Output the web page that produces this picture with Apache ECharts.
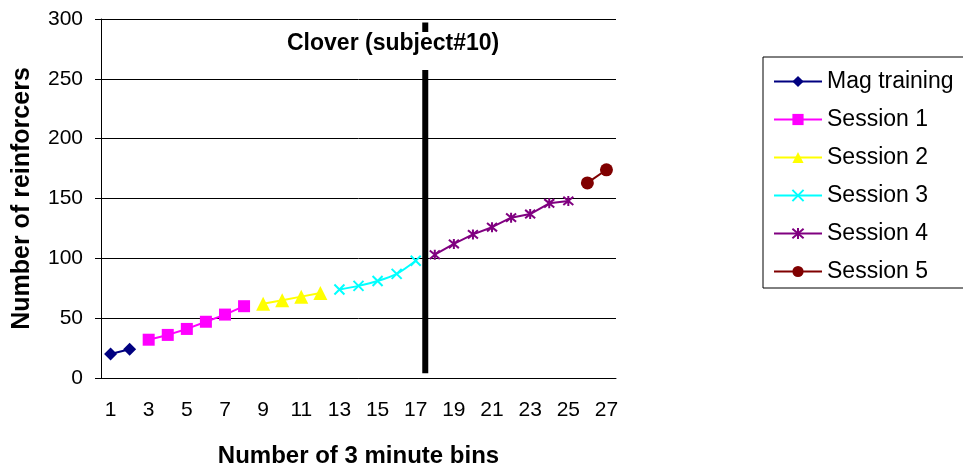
<!DOCTYPE html>
<html>
<head>
  <meta charset="utf-8" />
  <title>Clover (subject#10)</title>
  <script src="https://cdn.jsdelivr.net/npm/echarts@6/dist/echarts.min.js"></script>
  <style>
    html, body { margin: 0; padding: 0; background: #fff; }
    #main { width: 963px; height: 470px; }
  </style>
</head>
<body>
<div id="main"></div>
<script>
  // bins on the x axis
  let bins = ['1','2','3','4','5','6','7','8','9','10','11','12','13','14','15','16','17','18','19','20','21','22','23','24','25','26','27']

  // [bin, reinforcers]
  let magTraining = [[1, 20], [2, 24]]
  let session1 = [[3, 32], [4, 36], [5, 41], [6, 47], [7, 53], [8, 60]]
  let session2 = [[9, 62], [10, 65], [11, 68], [12, 71]]
  let session3 = [[13, 74], [14, 77], [15, 81], [16, 87], [17, 98]]
  let session4 = [[18, 103], [19, 112], [20, 120], [21, 126], [22, 134], [23, 137], [24, 146], [25, 148]]
  let session5 = [[26, 163], [27, 174]]

  // thick divider between bin 17 and 18
  let dividerBin = 17.5
  let dividerRange = [4, 297]

  let fontName = 'Liberation Sans, Arial, sans-serif'
  let crossPath = 'path://M0,0L10,10M10,0L0,10'
  let starPath = 'path://M0,0L10,10M10,0L0,10M5,-1L5,11'

  function toCat(arr) {
    return arr.map(function (p) { return [String(p[0]), p[1]] })
  }

  function makeSeries(name, data, color, symbol, size, extra) {
    let s = {
      name: name,
      type: 'line',
      data: toCat(data),
      symbol: symbol,
      symbolSize: size,
      showAllSymbol: true,
      lineStyle: { color: color, width: 2 },
      itemStyle: { color: color, borderColor: color, borderWidth: 0 },
      emphasis: { disabled: true },
      z: 3,
    }
    return Object.assign(s, extra || {})
  }

  let chart = echarts.init(document.getElementById('main'), null, { renderer: 'canvas' })

  let option = {
    animation: false,
    textStyle: { fontFamily: fontName },
    title: {
      text: 'Clover (subject#10)',
      left: 283,
      top: 32,
      padding: [0, 4, 15, 4],
      backgroundColor: '#fff',
      textStyle: { fontFamily: fontName, fontSize: 23, fontWeight: 'bold', color: '#000', lineHeight: 23 },
    },
    legend: {
      orient: 'vertical',
      left: 763,
      top: 57,
      padding: [13, 12, 5, 10],
      itemWidth: 48,
      itemHeight: 14,
      itemGap: 15,
      borderColor: '#000',
      borderWidth: 1,
      data: ['Mag training', 'Session 1', 'Session 2', 'Session 3', 'Session 4', 'Session 5'],
      textStyle: { fontFamily: fontName, fontSize: 23, color: '#000', lineHeight: 22 },
    },
    grid: {
      left: 101,
      right: 347,
      top: 19,
      bottom: 92,
      outerBoundsMode: 'none',
    },
    xAxis: [
      {
        type: 'category',
        data: bins,
        boundaryGap: true,
        name: 'Number of 3 minute bins',
        nameLocation: 'middle',
        nameGap: 66,
        nameTextStyle: { fontFamily: fontName, fontSize: 24, fontWeight: 'bold', color: '#000' },
        axisLine: { lineStyle: { color: '#000', width: 1 } },
        axisTick: { length: 6, lineStyle: { color: '#000' } },
        axisLabel: { interval: 1, margin: 22, fontSize: 21, color: '#000', fontFamily: fontName },
        splitLine: { show: false },
      },
      {
        type: 'value',
        min: 0.5,
        max: 27.5,
        show: false,
      },
    ],
    yAxis: {
      type: 'value',
      min: 0,
      max: 300,
      interval: 50,
      name: 'Number of reinforcers',
      nameLocation: 'middle',
      nameGap: 66,
      nameTextStyle: { fontFamily: fontName, fontSize: 25, fontWeight: 'bold', color: '#000' },
      axisLine: { show: true, lineStyle: { color: '#000', width: 1 } },
      axisTick: { show: true, length: 6, lineStyle: { color: '#000' } },
      axisLabel: { margin: 18, fontSize: 21, color: '#000', fontFamily: fontName },
      splitLine: { show: true, lineStyle: { color: '#000', width: 1 } },
    },
    series: [
      makeSeries('Mag training', magTraining, '#000080', 'diamond', 13),
      makeSeries('Session 1', session1, '#ff00ff', 'rect', 12),
      makeSeries('Session 2', session2, '#ffff00', 'triangle', 14),
      makeSeries('Session 3', session3, '#00ffff', crossPath, 10, {
        smooth: 0.3,
        itemStyle: { color: '#00ffff', borderColor: '#00ffff', borderWidth: 2 },
      }),
      makeSeries('Session 4', session4, '#800080', starPath, 10, {
        itemStyle: { color: '#800080', borderColor: '#800080', borderWidth: 2 },
      }),
      makeSeries('Session 5', session5, '#800000', 'circle', 13),
      {
        name: 'divider',
        type: 'line',
        xAxisIndex: 1,
        data: [[dividerBin, dividerRange[0]], [dividerBin, dividerRange[1]]],
        symbol: 'none',
        lineStyle: { color: '#000', width: 6, cap: 'butt' },
        emphasis: { disabled: true },
        silent: true,
        z: 4,
      },
    ],
  }

  chart.setOption(option)
</script>
</body>
</html>
